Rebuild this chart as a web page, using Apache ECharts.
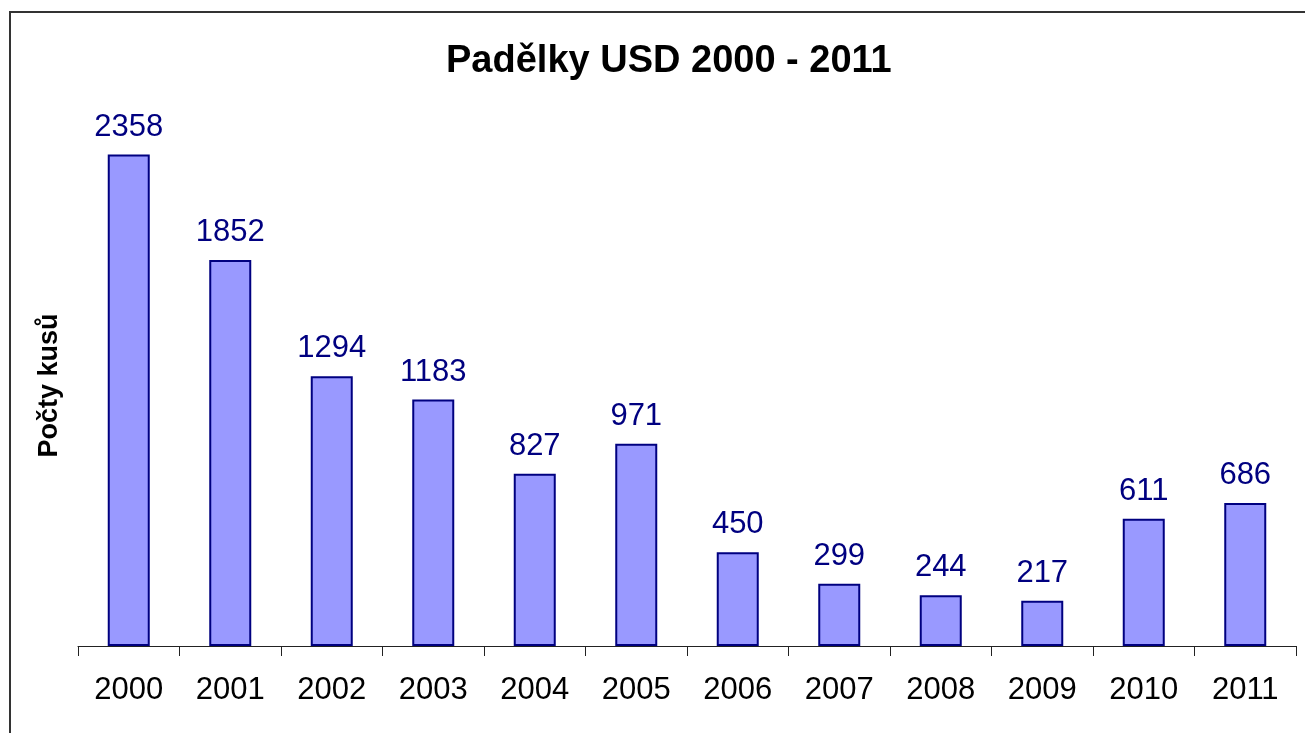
<!DOCTYPE html>
<html>
<head>
<meta charset="utf-8">
<title>Padělky USD 2000 - 2011</title>
<script src="https://cdn.jsdelivr.net/npm/echarts@6/dist/echarts.min.js"></script>
<style>
  html, body { margin: 0; padding: 0; background: #fff; }
  .bar { width: 1305px; height: 733px; }
</style>
</head>
<body>
<div class="bar"></div>
<script>
// data
var years = ['2000', '2001', '2002', '2003', '2004', '2005', '2006', '2007', '2008', '2009', '2010', '2011'];
var counts = [2358, 1852, 1294, 1183, 827, 971, 450, 299, 244, 217, 611, 686];
var titleText = 'Padělky USD 2000 - 2011';
var yName = 'Počty kusů';

;(function() {
  // 1. init
  var myChart = echarts.init(document.querySelector('.bar'));
  var font = 'Arial, "Liberation Sans", sans-serif';

  // 2. option
  var option = {
    backgroundColor: '#fff',
    animation: false,
    title: {
      text: titleText,
      left: 441,
      top: 38,
      textStyle: { fontFamily: font, fontSize: 38, fontWeight: 'bold', color: '#000' }
    },
    // frame round the chart
    graphic: [
      {
        type: 'rect',
        shape: { x: 10, y: 12, width: 1400, height: 800 },
        style: { fill: 'none', stroke: '#333', lineWidth: 2 }
      }
    ],
    grid: {
      left: 78,
      right: 9,
      top: 125,
      bottom: 87
    },
    xAxis: {
      type: 'category',
      data: years,
      axisLine: { lineStyle: { color: '#222', width: 1 } },
      axisTick: { show: true, length: 10, lineStyle: { color: '#222' } },
      axisLabel: { fontFamily: font, fontSize: 31, color: '#000', margin: 29 }
    },
    yAxis: {
      type: 'value',
      min: 0,
      max: 2500,
      name: yName,
      nameLocation: 'middle',
      nameGap: 15,
      nameTextStyle: { fontFamily: font, fontSize: 27, fontWeight: 'bold', color: '#000' },
      axisLine: { show: false },
      axisTick: { show: false },
      axisLabel: { show: false },
      splitLine: { show: false }
    },
    series: [
      {
        type: 'bar',
        data: counts,
        barWidth: 42,
        itemStyle: { color: '#9999ff', borderColor: '#000080', borderWidth: 2 },
        label: {
          show: true,
          position: 'top',
          distance: 12,
          fontFamily: font,
          fontSize: 31,
          color: '#000080'
        }
      }
    ]
  };

  // 3. set
  myChart.setOption(option);
  window.addEventListener('resize', function() {
    myChart.resize();
  });
})();
</script>
</body>
</html>
